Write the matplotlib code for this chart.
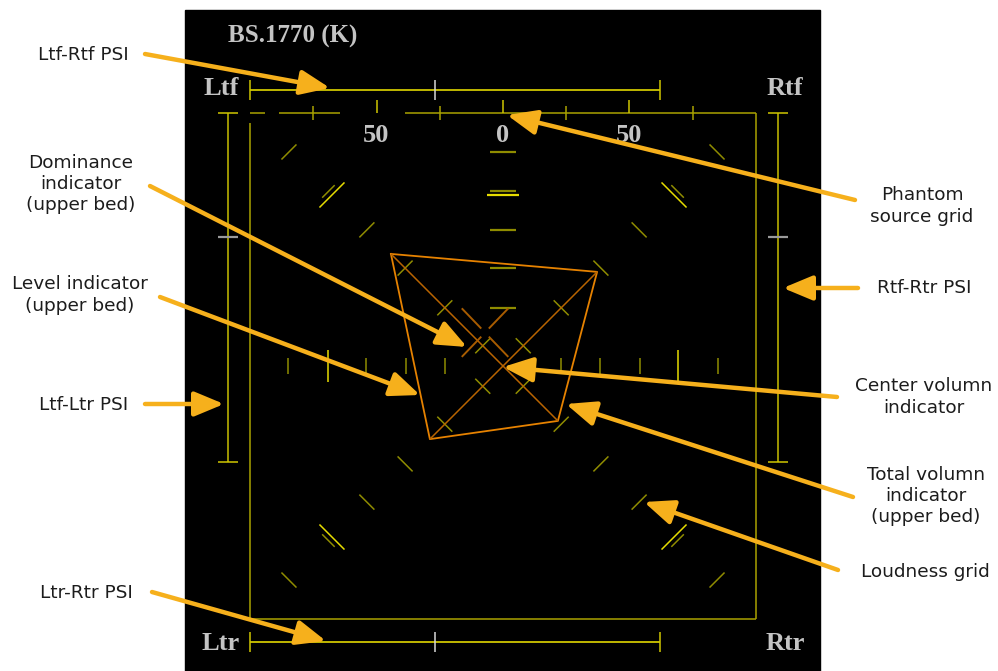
import numpy as np
import matplotlib
matplotlib.use("Agg")
import matplotlib.pyplot as plt
from matplotlib.patches import Rectangle, FancyArrowPatch
from matplotlib.transforms import Affine2D

# meter values (meter units, square is +-100)
top_edge_segments = [(-100, -94), (-88.5, -64.5), (-38.7, 100)]
top_ticks = [-75, -50, -25, 0, 25, 50, 75]
top_labels = ["50", "0", "50"]
top_label_pos = [-50, 0, 50]
row_ticks = [23, 38.5, 54, 69, 85]
diag_levels = [8, 23, 38.7, 53.8, 84.6]
column_levels = [23, 38.7, 53.8, 84.6]
double_level = 69
# level indicator (upper bed): Ltf, Rtf, Rtr, Ltr
level_values = [44.3, 37.2, 21.7, 28.9]
level_dirs = [(-1, 1), (1, 1), (1, -1), (-1, -1)]
dominance = (-7.1, 13.2)
psi_h = [-100, 62]
psi_h_tick = -27
psi_v = [100, -38]
psi_v_tick = 51
corner_names = ["Ltf", "Rtf", "Ltr", "Rtr"]

# callouts: text, text pos, arrow tail, arrow head (pixels)
callouts = [
    ("Ltf-Rtf PSI", (83, 55), (145, 54), (330, 88)),
    ("Dominance\nindicator\n(upper bed)", (81, 184), (150, 186), (467, 347)),
    ("Level indicator\n(upper bed)", (80, 295), (160, 297), (420, 395)),
    ("Ltf-Ltr PSI", (84, 405), (145, 404), (224, 404)),
    ("Ltr-Rtr PSI", (86, 593), (152, 592), (326, 641)),
    ("Phantom\nsource grid", (922, 206), (855, 200), (507, 115)),
    ("Rtf-Rtr PSI", (924, 288), (858, 288), (783, 288)),
    ("Center volumn\nindicator", (924, 397), (837, 397), (503, 367)),
    ("Total volumn\nindicator\n(upper bed)", (926, 496), (853, 497), (566, 404)),
    ("Loudness grid", (925, 572), (838, 570), (644, 502)),
]

SQ = "#aaa200"
YEL = "#cfc600"
OLIVE = "#8f8c00"
BRIGHT = "#e6dc00"
ORANGE = "#e68200"
ORANGE_D = "#b86400"
GRAYTXT = "#c4c4c4"
ARROW = "#f6b01c"

fig = plt.figure(figsize=(9.98, 6.71), dpi=100)
ax = fig.add_axes([0, 0, 1, 1])
ax.set_xlim(0, 998)
ax.set_ylim(671, 0)
ax.axis("off")

ax.add_patch(Rectangle((185, 10), 635, 662, color="black", zorder=0))

m = Affine2D().scale(2.53, -2.53).translate(503, 366) + ax.transData


def seg(x0, y0, x1, y1, c, lw=1.1, z=2):
    ax.plot([x0, x1], [y0, y1], color=c, lw=lw, transform=m, zorder=z,
            solid_capstyle="butt")


# square
for a, b in top_edge_segments:
    seg(a, 100, b, 100, SQ)
seg(-100, 96, -100, -100, SQ)
seg(100, 100, 100, -100, SQ)
seg(-100, -100, 100, -100, SQ)
for t in top_ticks:
    if t in top_label_pos:
        seg(t, 100, t, 105, YEL)
    else:
        seg(t, 97.3, t, 102.7, SQ)
for lab, x in zip(top_labels, top_label_pos):
    ax.text(x, 91, lab, transform=m, ha="center", va="center", color=GRAYTXT,
            fontsize=19, family="Liberation Serif", fontweight="bold")

# phantom row ticks
for s in (-1, 1):
    for r in row_ticks:
        if r == 69:
            seg(s * r, -6.5, s * r, 6.5, BRIGHT)
        else:
            seg(s * r, -3.2, s * r, 3.2, OLIVE)

# loudness grid, diagonals
h = 4.2
for dx, dy in level_dirs:
    px, py = -dy, dx
    n = np.hypot(px, py)
    px, py = px / n, py / n
    for L in diag_levels:
        cx, cy = dx * L, dy * L
        seg(cx - px * h, cy - py * h, cx + px * h, cy + py * h, OLIVE)
    cx, cy = dx * double_level, dy * double_level
    seg(cx - px * 3.5, cy - py * 3.5, cx + px * 3.5, cy + py * 3.5, OLIVE)
    cx, cy = dx * (double_level - 1.4), dy * (double_level - 1.4)
    seg(cx - px * 7, cy - py * 7, cx + px * 7, cy + py * 7, BRIGHT)
# column
for L in column_levels:
    seg(-5.3, L, 5.3, L, OLIVE, lw=1.6)
seg(-5.3, double_level, 5.3, double_level, OLIVE, lw=1.6)
seg(-6.5, double_level - 1.4, 6.5, double_level - 1.4, BRIGHT, lw=1.6)

# PSI bars
for y in (109, -109):
    seg(psi_h[0], y, psi_h[1], y, YEL, lw=1.3)
    seg(psi_h[0], y - 4, psi_h[0], y + 4, YEL)
    seg(psi_h[1], y - 4, psi_h[1], y + 4, YEL)
    seg(psi_h_tick, y - 4, psi_h_tick, y + 4, "#d8d8d8")
for x in (-108.7, 108.7):
    seg(x, psi_v[0], x, psi_v[1], SQ, lw=1.3)
    seg(x - 4, psi_v[0], x + 4, psi_v[0], YEL)
    seg(x - 4, psi_v[1], x + 4, psi_v[1], YEL)
    seg(x - 4, psi_v_tick, x + 4, psi_v_tick, "#9a9a9a", lw=1.6)

# corner labels and title
for name, (sx, sy) in zip(corner_names, [(-1, 1), (1, 1), (-1, -1), (1, -1)]):
    ax.text(sx * 111.5, sy * 109.7, name, transform=m, ha="center", va="center",
            color=GRAYTXT, fontsize=19, family="Liberation Serif", fontweight="bold")
ax.text(228, 36, "BS.1770 (K)", ha="left", va="center", color=GRAYTXT,
        fontsize=18, family="Liberation Serif", fontweight="bold")

# level indicator polygon
vx = [d[0] * v for d, v in zip(level_dirs, level_values)]
vy = [d[1] * v for d, v in zip(level_dirs, level_values)]
ax.plot(vx + vx[:1], vy + vy[:1], color=ORANGE, lw=1.3, transform=m, zorder=3)
seg(vx[0], vy[0], vx[2], vy[2], ORANGE_D, lw=1.1, z=3)
seg(vx[1], vy[1], vx[3], vy[3], ORANGE_D, lw=1.1, z=3)

# dominance indicator
for dx, dy in level_dirs:
    seg(dominance[0] + dx * 1.5, dominance[1] + dy * 1.6,
        dominance[0] + dx * 9.2, dominance[1] + dy * 9.6, "#a85c00", lw=1.4, z=3)

# callouts
for text, tpos, tail, head in callouts:
    ax.text(tpos[0], tpos[1], text, ha="center", va="center", fontsize=13.3,
            family="DejaVu Sans", color="#1c1c1c", linespacing=1.25)
    arr = FancyArrowPatch(tail, head, arrowstyle="-|>,head_length=1.8,head_width=0.75",
                          mutation_scale=10, color=ARROW, lw=3.2,
                          shrinkA=0, shrinkB=0, zorder=5)
    ax.add_patch(arr)

fig.savefig("out.png", dpi=100, facecolor="white")
